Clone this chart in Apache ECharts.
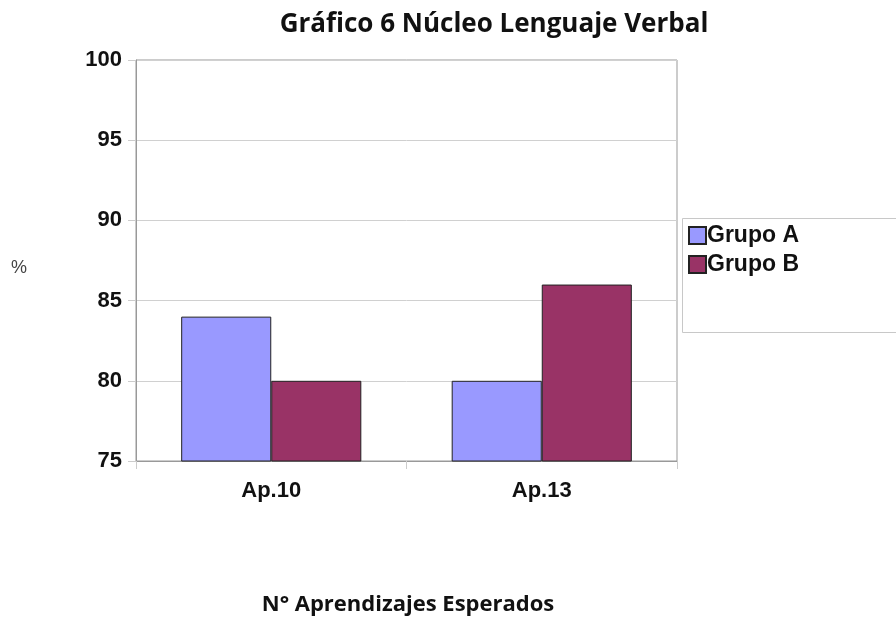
<!DOCTYPE html>
<html><head><meta charset="utf-8">
<script src="https://cdn.jsdelivr.net/npm/echarts@6/dist/echarts.min.js"></script>
<style>html,body{margin:0;padding:0;background:#fff}#c{width:896px;height:619px}</style>
</head><body><div id="c"></div>
<script>
const categories = ['Ap.10', 'Ap.13'];
const grupoA = [84, 80];
const grupoB = [80, 86];
const seriesNames = ['Grupo A', 'Grupo B'];

const chart = echarts.init(document.getElementById('c'));
chart.setOption({
  animation: false,
  backgroundColor: '#fff',
  title: {
    text: 'Gráfico 6 Núcleo Lenguaje Verbal',
    left: 489, textAlign: 'center', top: 7,
    textStyle: {fontFamily: 'Open Sans', fontWeight: 'bold', fontSize: 26, color: '#111'}
  },
  legend: {
    orient: 'vertical', left: 683, top: 219,
    itemWidth: 17, itemHeight: 17, itemGap: 6, icon: 'rect',
    data: seriesNames,
    textStyle: {fontFamily: 'Liberation Sans', fontWeight: 'bold', fontSize: 23, lineHeight: 23, color: '#111', padding: [0,0,0,-4]}
  },
  graphic: [
    {type: 'rect', shape: {x: 682.5, y: 218.5, width: 230, height: 114}, style: {fill: 'none', stroke: '#c8c8c8', lineWidth: 1}, z: -1},
    {type: 'text', x: 11, y: 259, style: {text: '%', font: '18px "Liberation Sans"', fill: '#444'}},
    {type: 'text', x: 408, y: 594, style: {text: 'N° Aprendizajes Esperados', font: 'bold 22px "Open Sans"', fill: '#111', textAlign: 'center'}}
  ],
  grid: {left: 136, top: 60, width: 541, height: 401, show: true, borderColor: '#999', borderWidth: 1, backgroundColor: '#fff'},
  xAxis: {
    type: 'category', data: categories,
    axisLine: {lineStyle: {color: '#999'}},
    axisTick: {show: true, length: 8, lineStyle: {color: '#ccc'}},
    axisLabel: {fontFamily: 'Liberation Sans', fontWeight: 'bold', fontSize: 22, color: '#111', margin: 19}
  },
  yAxis: {
    type: 'value', min: 75, max: 100, interval: 5,
    axisLine: {show: true, lineStyle: {color: '#999'}},
    axisTick: {show: true, length: 8, lineStyle: {color: '#ccc'}},
    splitLine: {lineStyle: {color: '#d0d0d0'}},
    axisLabel: {fontFamily: 'Liberation Sans', fontWeight: 'bold', fontSize: 22, color: '#111', margin: 14}
  },
  series: [
    {name: seriesNames[0], type: 'bar', data: grupoA, barGap: '0%', barCategoryGap: '33.4%',
     itemStyle: {color: '#9999ff', borderColor: '#222', borderWidth: 1}},
    {name: seriesNames[1], type: 'bar', data: grupoB,
     itemStyle: {color: '#993366', borderColor: '#222', borderWidth: 1}}
  ]
});
</script></body></html>
